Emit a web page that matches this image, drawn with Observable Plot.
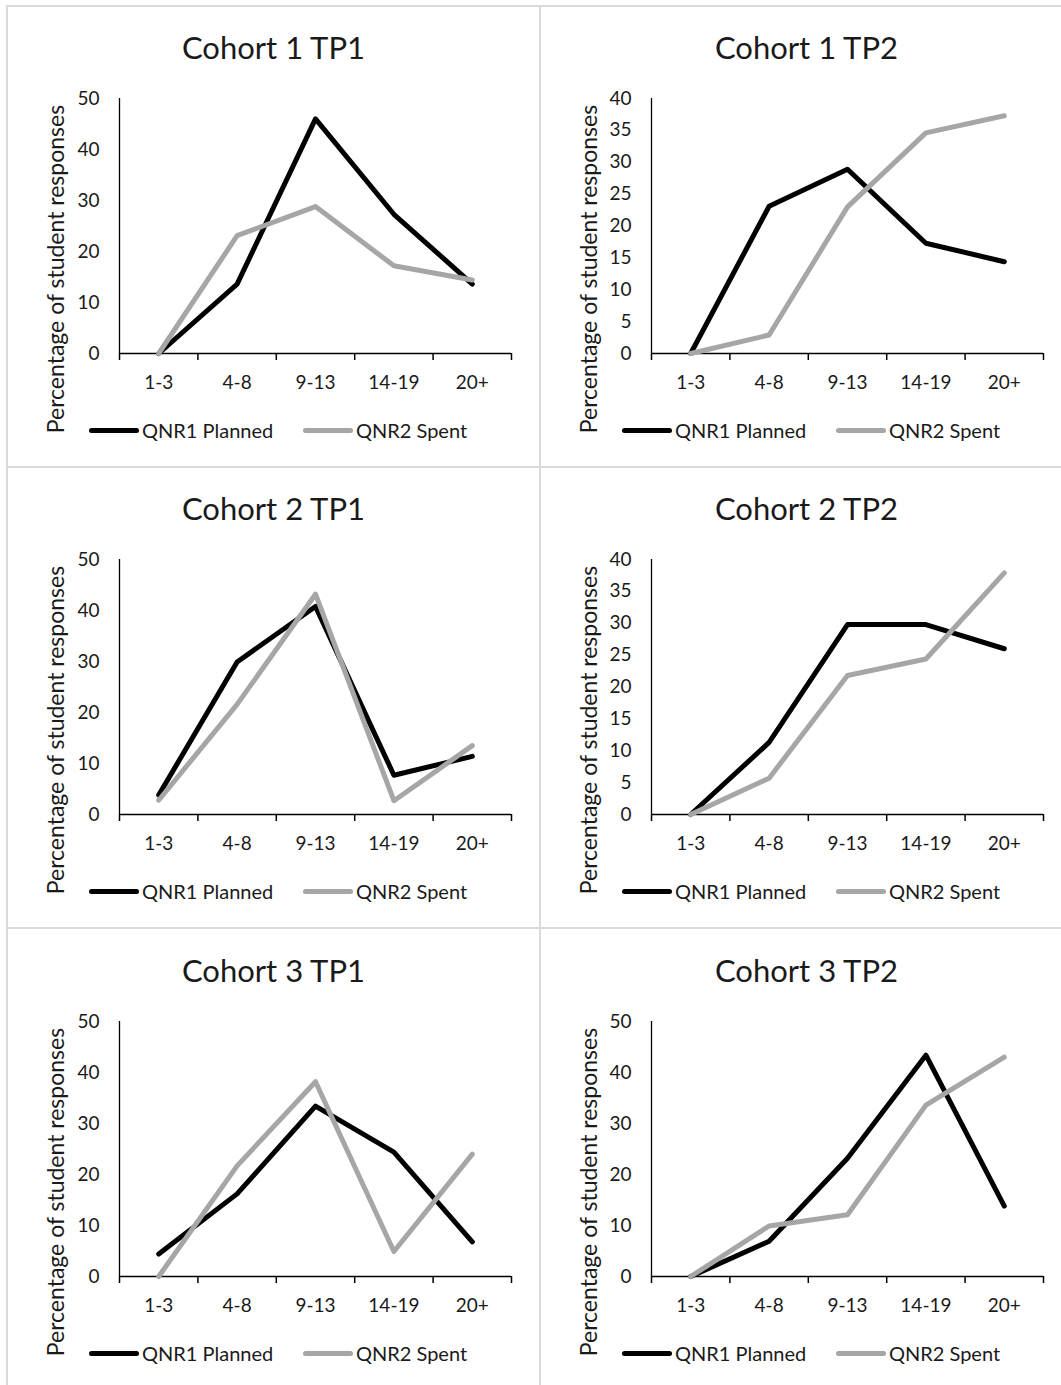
<!DOCTYPE html>
<html>
<head>
<meta charset="utf-8">
<script src="https://cdn.jsdelivr.net/npm/d3@7"></script>
<script src="https://cdn.jsdelivr.net/npm/@observablehq/plot@0.6"></script>
<style>
  html, body { margin: 0; padding: 0; background: #fff; }
  body { width: 1061px; height: 1385px; overflow: hidden; position: relative; font-family: Lato, "Noto Sans", sans-serif; color: #1a1a1a; }
  .hline { position: absolute; height: 2px; background: #dadada; }
  .vline { position: absolute; width: 2px; background: #dadada; }
  .panel { position: absolute; width: 533px; height: 461px; }
  .title { position: absolute; left: 0; width: 533px; top: 26px; text-align: center; font-size: 31px; line-height: 1; white-space: nowrap; }
  .ylabel { position: absolute; width: 400px; height: 28px; line-height: 28px; font-size: 23px; text-align: center; white-space: nowrap; transform: rotate(-90deg); transform-origin: 50% 50%; z-index: 2; }
  .chart { position: absolute; top: 72px; }
  .leg { position: absolute; top: 412px; height: 24px; display: flex; align-items: center; font-size: 20px; white-space: nowrap; }
  .sw { display: inline-block; width: 50px; height: 5px; border-radius: 2.5px; margin-right: 3px; }
</style>
</head>
<body>
<script>
// ---- data ----
const categories = ["1-3", "4-8", "9-13", "14-19", "20+"];
const titles = ["Cohort 1 TP1", "Cohort 1 TP2", "Cohort 2 TP1", "Cohort 2 TP2", "Cohort 3 TP1", "Cohort 3 TP2"];
const seriesNames = ["QNR1 Planned", "QNR2 Spent"];
const yLabel = "Percentage of student responses";

const c1tp1Planned = [0, 13.6, 46.0, 27.3, 13.6];
const c1tp1Spent   = [0, 23.1, 28.8, 17.2, 14.4];
const c1tp2Planned = [0, 23.1, 28.9, 17.3, 14.4];
const c1tp2Spent   = [0, 2.9, 23.0, 34.6, 37.3];
const c2tp1Planned = [3.8, 29.9, 40.8, 7.7, 11.4];
const c2tp1Spent   = [2.8, 21.6, 43.2, 2.7, 13.5];
const c2tp2Planned = [0, 11.3, 29.8, 29.8, 26.0];
const c2tp2Spent   = [0, 5.7, 21.8, 24.4, 37.9];
const c3tp1Planned = [4.4, 16.2, 33.4, 24.4, 6.8];
const c3tp1Spent   = [0, 21.7, 38.2, 4.9, 24.0];
const c3tp2Planned = [0, 6.9, 23.2, 43.4, 13.8];
const c3tp2Spent   = [0, 9.9, 12.1, 33.6, 43.0];

const yMax  = [50, 40, 50, 40, 50, 50];
const yStep = [10, 5, 10, 5, 10, 10];

const planned = [c1tp1Planned, c1tp2Planned, c2tp1Planned, c2tp2Planned, c3tp1Planned, c3tp2Planned];
const spent   = [c1tp1Spent, c1tp2Spent, c2tp1Spent, c2tp2Spent, c3tp1Spent, c3tp2Spent];

const colors = ["#000000", "#a6a6a6"];

// ---- layout ----
const colLeft = [7, 540];
const rowTop = [6, 467, 929];

// grid lines
for (const y of [6, 467, 928]) {
  const d = document.createElement("div");
  d.className = "hline";
  d.style.left = "6px"; d.style.width = "1060px"; d.style.top = (y - 1) + "px";
  document.body.appendChild(d);
}
for (const x of [7, 540]) {
  const d = document.createElement("div");
  d.className = "vline";
  d.style.left = (x - 1) + "px"; d.style.top = "5px"; d.style.height = "1385px";
  document.body.appendChild(d);
}

titles.forEach((title, k) => {
  const col = k % 2, row = Math.floor(k / 2);
  const panel = document.createElement("div");
  panel.className = "panel";
  panel.style.left = colLeft[col] + "px";
  panel.style.top = rowTop[row] + "px";

  const t = document.createElement("div");
  t.className = "title";
  t.textContent = title;
  panel.appendChild(t);

  const rows = [];
  planned[k].forEach((v, i) => rows.push({s: 0, x: i + 0.5, v}));
  spent[k].forEach((v, i) => rows.push({s: 1, x: i + 0.5, v}));

  const chart = Plot.plot({
    width: 533,
    height: 320,
    marginLeft: col === 0 ? 112 : 111,
    marginRight: col === 0 ? 29 : 30,
    marginTop: 20,
    marginBottom: 45,
    style: {fontFamily: "Lato, 'Noto Sans', sans-serif", fontSize: "19px", color: "#1a1a1a", background: "transparent"},
    x: {domain: [0, categories.length]},
    y: {domain: [0, yMax[k]]},
    marks: [
      Plot.axisY({ticks: d3.range(0, yMax[k] + yStep[k] / 2, yStep[k]), tickSize: 0, tickPadding: 20, label: null, fontSize: 19}),
      Plot.axisX({ticks: d3.range(0, categories.length + 1), tickSize: 7, tickFormat: () => "", label: null, stroke: "#000", strokeWidth: 1.5}),
      Plot.axisX({ticks: categories.map((c, i) => i + 0.5), tickSize: 0, tickPadding: 22, tickFormat: v => categories[Math.round(v - 0.5)], label: null, fontSize: 19}),
      Plot.ruleY([0], {stroke: "#000", strokeWidth: 1.5}),
      Plot.ruleX([0], {stroke: "#000", strokeWidth: 1.3}),
      Plot.line(rows.filter(d => d.s === 0), {x: "x", y: "v", stroke: colors[0], strokeWidth: 5, strokeLinejoin: "round", strokeLinecap: "round"}),
      Plot.line(rows.filter(d => d.s === 1), {x: "x", y: "v", stroke: colors[1], strokeWidth: 5, strokeLinejoin: "round", strokeLinecap: "round"})
    ]
  });
  chart.classList.add("chart");
  chart.style.position = "absolute";
  chart.style.left = "0px";
  chart.style.top = "72px";
  panel.appendChild(chart);

  const yl = document.createElement("div");
  yl.className = "ylabel";
  yl.textContent = yLabel;
  yl.style.left = (48 - 200) + "px";
  yl.style.top = (263 - 14) + "px";
  panel.appendChild(yl);

  const legLefts = [82, 296];
  seriesNames.forEach((name, s) => {
    const lg = document.createElement("div");
    lg.className = "leg";
    lg.style.left = legLefts[s] + "px";
    const sw = document.createElement("span");
    sw.className = "sw";
    sw.style.background = colors[s];
    lg.appendChild(sw);
    const tx = document.createElement("span");
    tx.textContent = name;
    lg.appendChild(tx);
    panel.appendChild(lg);
  });

  document.body.appendChild(panel);
});
</script>
</body>
</html>
